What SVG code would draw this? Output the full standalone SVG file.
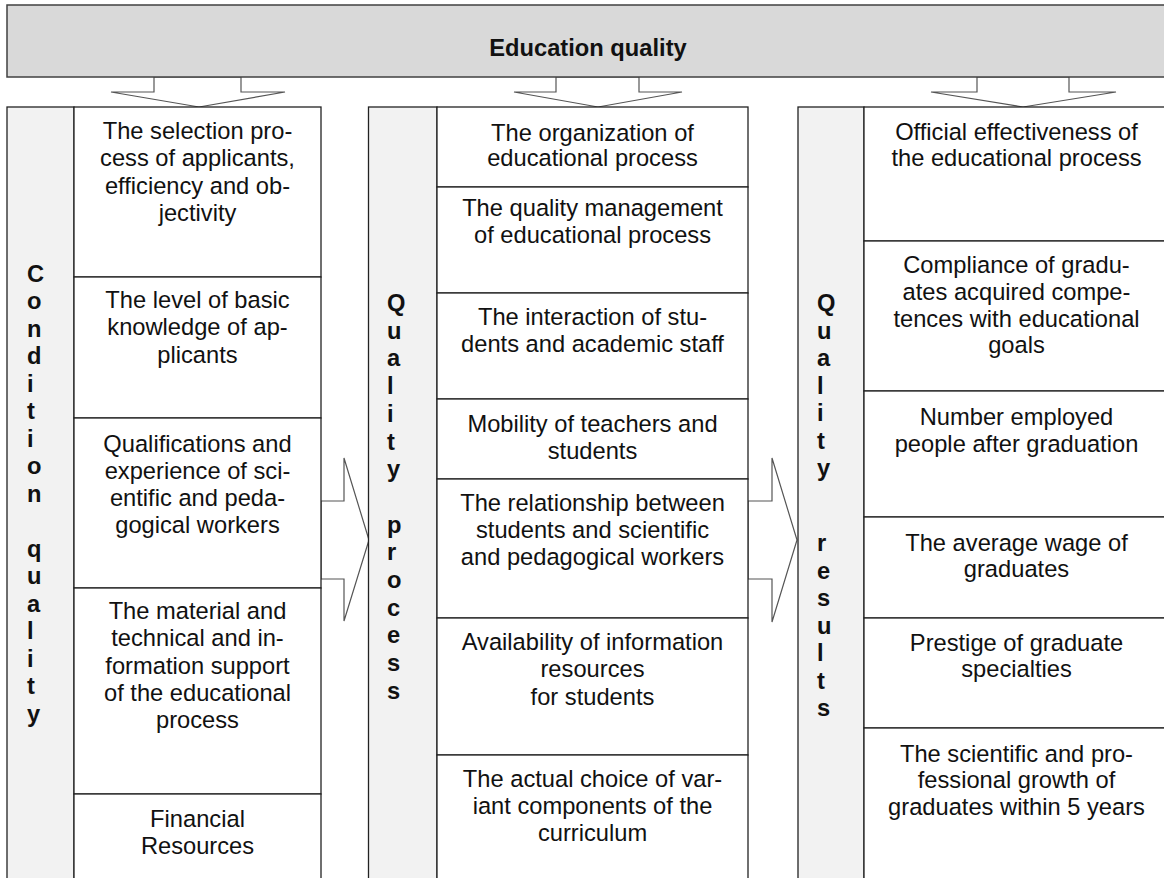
<svg xmlns="http://www.w3.org/2000/svg" width="1164" height="878" viewBox="0 0 1164 878">
<style>
.bar{fill:#d9d9d9;stroke:#404040;stroke-width:1.5}
.lab{fill:#f2f2f2;stroke:#222;stroke-width:1.3}
.box{fill:#ffffff;stroke:#222;stroke-width:1.3}
.arr{fill:#ffffff;stroke:#555;stroke-width:1.2;stroke-linejoin:miter}
.t{font-family:"Liberation Sans",Arial,sans-serif;font-size:23.7px;fill:#111;text-anchor:middle}
.b{font-family:"Liberation Sans",Arial,sans-serif;font-size:23.7px;font-weight:bold;fill:#111}
</style>
<rect width="1164" height="878" fill="#ffffff"/>
<g id="connectors">
<polygon class="arr" points="154,77 154,92 111,92 199,107 285,92 241,92 241,77"/>
<polygon class="arr" points="556,77 556,92 514,92 598,107 682,92 639,92 639,77"/>
<polygon class="arr" points="977,77 977,92 931,92 1023,107 1116,92 1069,92 1069,77"/>
<polygon class="arr" points="321,501 344,501 344,458 369,540 344,621 344,579 321,579"/>
<polygon class="arr" points="748,501 772,501 772,458 797,540 772,622 772,579 748,579"/>
</g>
<g id="title">
<rect class="bar" x="7" y="5" width="1162" height="72"/>
<text class="b" x="588" y="56" text-anchor="middle">Education quality</text>
</g>
<g id="condition-quality">
<rect class="lab" x="7" y="107" width="67" height="776"/>
<text class="b" x="27"><tspan x="27" y="281.5">C</tspan><tspan x="27" y="309">o</tspan><tspan x="27" y="336.5">n</tspan><tspan x="27" y="364">d</tspan><tspan x="27" y="391.5">i</tspan><tspan x="27" y="419">t</tspan><tspan x="27" y="446.5">i</tspan><tspan x="27" y="474">o</tspan><tspan x="27" y="501.5">n</tspan><tspan x="27" y="556.5">q</tspan><tspan x="27" y="584">u</tspan><tspan x="27" y="611.5">a</tspan><tspan x="27" y="639">l</tspan><tspan x="27" y="666.5">i</tspan><tspan x="27" y="694">t</tspan><tspan x="27" y="721.5">y</tspan></text>
</g>
<g id="c1">
<rect class="box" x="74" y="107" width="247" height="170"/>
<text class="t"><tspan x="197.5" y="139">The selection pro-</tspan><tspan x="197.5" y="166.3">cess of applicants,</tspan><tspan x="197.5" y="193.6">efficiency and ob-</tspan><tspan x="197.5" y="220.9">jectivity</tspan></text>
</g>
<g id="c2">
<rect class="box" x="74" y="277" width="247" height="141"/>
<text class="t"><tspan x="197.5" y="308">The level of basic</tspan><tspan x="197.5" y="335.3">knowledge of ap-</tspan><tspan x="197.5" y="362.6">plicants</tspan></text>
</g>
<g id="c3">
<rect class="box" x="74" y="418" width="247" height="170"/>
<text class="t"><tspan x="197.5" y="451.5">Qualifications and</tspan><tspan x="197.5" y="478.8">experience of sci-</tspan><tspan x="197.5" y="506.1">entific and peda-</tspan><tspan x="197.5" y="533.4">gogical workers</tspan></text>
</g>
<g id="c4">
<rect class="box" x="74" y="588" width="247" height="206"/>
<text class="t"><tspan x="197.5" y="619">The material and</tspan><tspan x="197.5" y="646.3">technical and in-</tspan><tspan x="197.5" y="673.6">formation support</tspan><tspan x="197.5" y="700.9">of the educational</tspan><tspan x="197.5" y="728.2">process</tspan></text>
</g>
<g id="c5">
<rect class="box" x="74" y="794" width="247" height="89"/>
<text class="t"><tspan x="197.5" y="826.5">Financial</tspan><tspan x="197.5" y="853.8">Resources</tspan></text>
</g>
<g id="quality-process">
<rect class="lab" x="368.5" y="107" width="68.5" height="776"/>
<text class="b" x="387"><tspan x="387" y="311">Q</tspan><tspan x="387" y="338.7">u</tspan><tspan x="387" y="366.4">a</tspan><tspan x="387" y="394.1">l</tspan><tspan x="387" y="421.8">i</tspan><tspan x="387" y="449.5">t</tspan><tspan x="387" y="477.2">y</tspan><tspan x="387" y="532.6">p</tspan><tspan x="387" y="560.3">r</tspan><tspan x="387" y="588">o</tspan><tspan x="387" y="615.7">c</tspan><tspan x="387" y="643.4">e</tspan><tspan x="387" y="671.1">s</tspan><tspan x="387" y="698.8">s</tspan></text>
</g>
<g id="p1">
<rect class="box" x="437" y="107" width="311" height="80"/>
<text class="t"><tspan x="592.5" y="140.5">The organization of</tspan><tspan x="592.5" y="166">educational process</tspan></text>
</g>
<g id="p2">
<rect class="box" x="437" y="187" width="311" height="106"/>
<text class="t"><tspan x="592.5" y="216">The quality management</tspan><tspan x="592.5" y="242.5">of educational process</tspan></text>
</g>
<g id="p3">
<rect class="box" x="437" y="293" width="311" height="106"/>
<text class="t"><tspan x="592.5" y="325">The interaction of stu-</tspan><tspan x="592.5" y="351.7">dents and academic staff</tspan></text>
</g>
<g id="p4">
<rect class="box" x="437" y="399" width="311" height="80"/>
<text class="t"><tspan x="592.5" y="431.7">Mobility of teachers and</tspan><tspan x="592.5" y="459">students</tspan></text>
</g>
<g id="p5">
<rect class="box" x="437" y="479" width="311" height="139"/>
<text class="t"><tspan x="592.5" y="510.7">The relationship between</tspan><tspan x="592.5" y="538">students and scientific</tspan><tspan x="592.5" y="565">and pedagogical workers</tspan></text>
</g>
<g id="p6">
<rect class="box" x="437" y="618" width="311" height="137"/>
<text class="t"><tspan x="592.5" y="650">Availability of information</tspan><tspan x="592.5" y="677">resources</tspan><tspan x="592.5" y="705">for students</tspan></text>
</g>
<g id="p7">
<rect class="box" x="437" y="755" width="311" height="128"/>
<text class="t"><tspan x="592.5" y="786.7">The actual choice of var-</tspan><tspan x="592.5" y="814">iant components of the</tspan><tspan x="592.5" y="840.5">curriculum</tspan></text>
</g>
<g id="quality-results">
<rect class="lab" x="798" y="107" width="66" height="776"/>
<text class="b" x="817"><tspan x="817" y="311">Q</tspan><tspan x="817" y="338.5">u</tspan><tspan x="817" y="366">a</tspan><tspan x="817" y="393.5">l</tspan><tspan x="817" y="421">i</tspan><tspan x="817" y="448.5">t</tspan><tspan x="817" y="476">y</tspan><tspan x="817" y="551">r</tspan><tspan x="817" y="578.5">e</tspan><tspan x="817" y="606">s</tspan><tspan x="817" y="633.5">u</tspan><tspan x="817" y="661">l</tspan><tspan x="817" y="688.5">t</tspan><tspan x="817" y="716">s</tspan></text>
</g>
<g id="r1">
<rect class="box" x="864" y="107" width="305" height="134"/>
<text class="t"><tspan x="1016.5" y="140">Official effectiveness of</tspan><tspan x="1016.5" y="166">the educational process</tspan></text>
</g>
<g id="r2">
<rect class="box" x="864" y="241" width="305" height="150"/>
<text class="t"><tspan x="1016.5" y="273.3">Compliance of gradu-</tspan><tspan x="1016.5" y="300">ates acquired compe-</tspan><tspan x="1016.5" y="326.7">tences with educational</tspan><tspan x="1016.5" y="353.3">goals</tspan></text>
</g>
<g id="r3">
<rect class="box" x="864" y="391" width="305" height="126"/>
<text class="t"><tspan x="1016.5" y="425">Number employed</tspan><tspan x="1016.5" y="451.7">people after graduation</tspan></text>
</g>
<g id="r4">
<rect class="box" x="864" y="517" width="305" height="101"/>
<text class="t"><tspan x="1016.5" y="550.7">The average wage of</tspan><tspan x="1016.5" y="576.7">graduates</tspan></text>
</g>
<g id="r5">
<rect class="box" x="864" y="618" width="305" height="110"/>
<text class="t"><tspan x="1016.5" y="650.7">Prestige of graduate</tspan><tspan x="1016.5" y="677">specialties</tspan></text>
</g>
<g id="r6">
<rect class="box" x="864" y="728" width="305" height="155"/>
<text class="t"><tspan x="1016.5" y="761.7">The scientific and pro-</tspan><tspan x="1016.5" y="788.3">fessional growth of</tspan><tspan x="1016.5" y="815">graduates within 5 years</tspan></text>
</g>
</svg>
